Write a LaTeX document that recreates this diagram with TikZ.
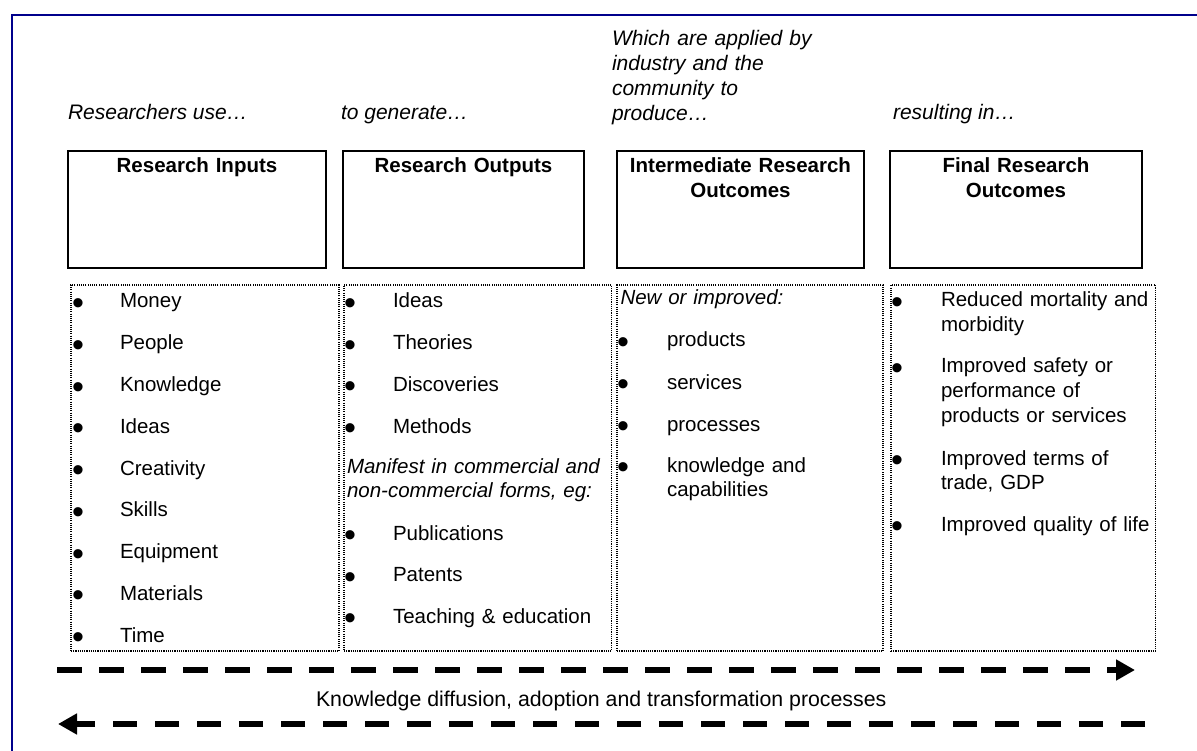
\documentclass[tikz,border=0pt]{standalone}
\usepackage{fontspec}
\setmainfont{Liberation Sans}
\usetikzlibrary{arrows.meta}
\definecolor{frameblue}{RGB}{0,0,140}
\begin{document}
\begin{tikzpicture}[x=1pt,y=-1pt,
  every node/.style={inner sep=0pt, outer sep=0pt, font=\fontsize{20.5}{24.7}\selectfont},
  caption/.style={anchor=base west, font=\fontsize{21}{24.7}\selectfont\itshape},
  mcaption/.style={caption, text width=260pt, align=left},
  headbox/.style={draw=black, line width=2pt, anchor=north west},
  headtitle/.style={anchor=base, font=\fontsize{20.5}{24.7}\selectfont\bfseries, text width=240pt, align=center},
  listbox/.style={draw=black, line width=1.1pt, dash pattern=on 1.1pt off 1.1pt, anchor=north west},
  bul/.style={anchor=base, yshift=-6.5pt, font=\fontsize{34}{34}\selectfont},
  item/.style={anchor=base west, text width=215pt, align=left},
  flow/.style={line width=6pt, dash pattern=on 24.5pt off 17.5pt, -{Triangle[length=19pt,width=20pt]}}
]
\useasboundingbox (0,0) rectangle (1197,751);
\clip (0,0) rectangle (1197,751);
% outer frame
\draw[frameblue, line width=2pt] (12,15) rectangle (1215,770);

% captions
\node[caption] (c1) at (68,120) {Researchers use…};
\node[caption] (c2) at (341,120) {to generate…};
\node[mcaption] (c3) at (612,46) {Which are applied by\\industry and the\\community to\\produce…};
\node[caption] (c4) at (893,120) {resulting in…};

% head boxes
\node[headbox, minimum width=258pt, minimum height=117pt] (h1) at (68,151) {};
\node[headbox, minimum width=241pt, minimum height=117pt] (h2) at (343,151) {};
\node[headbox, minimum width=247pt, minimum height=117pt] (h3) at (617,151) {};
\node[headbox, minimum width=252pt, minimum height=117pt] (h4) at (890,151) {};
\node[headtitle] (t1) at ([yshift=-22pt]h1.north) {Research Inputs};
\node[headtitle] (t2) at ([yshift=-22pt]h2.north) {Research Outputs};
\node[headtitle] (t3) at ([yshift=-22pt]h3.north) {Intermediate Research\\Outcomes};
\node[headtitle] (t4) at ([yshift=-22pt]h4.north) {Final Research\\Outcomes};

% list boxes
\node[listbox, minimum width=268pt, minimum height=366pt] (l1) at (71,285) {};
\node[listbox, minimum width=267.5pt, minimum height=366pt] (l2) at (344,285) {};
\node[listbox, minimum width=266pt, minimum height=366pt] (l3) at (617,285) {};
\node[listbox, minimum width=264.5pt, minimum height=366pt] (l4) at (891,285) {};

% column A
\foreach \t [count=\i] in {Money,People,Knowledge,Ideas,Creativity,Skills,Equipment,Materials,Time}{
  \node[bul] (ab\i) at (78,{308+41.75*(\i-1)}) {•};
  \node[item] (a\i) at (120,{308+41.75*(\i-1)}) {\t};
}

% column B
\foreach \t [count=\i] in {Ideas,Theories,Discoveries,Methods}{
  \node[bul] (bb\i) at (350,{308+41.7*(\i-1)}) {•};
  \node[item] (b\i) at (393,{308+41.7*(\i-1)}) {\t};
}
\node[mcaption, font=\fontsize{20.5}{24.7}\selectfont\itshape] (bm) at (347,473) {Manifest in commercial and\\non-commercial forms, eg:};
\node[bul] (bb5) at (350,540) {•};
\node[item] (b5) at (393,540) {Publications};
\node[bul] (bb6) at (350,581.5) {•};
\node[item] (b6) at (393,581.5) {Patents};
\node[bul] (bb7) at (350,623) {•};
\node[item] (b7) at (393,623) {Teaching \& education};

% column C
\node[mcaption, font=\fontsize{20.5}{24.7}\selectfont\itshape] (cm) at (620.5,305) {New or improved:};
\node[bul] (cb1) at (623,347) {•};
\node[item] (cc1) at (667,347) {products};
\node[bul] (cb2) at (623,389) {•};
\node[item] (cc2) at (667,389) {services};
\node[bul] (cb3) at (623,431) {•};
\node[item] (cc3) at (667,431) {processes};
\node[bul] (cb4) at (623,472) {•};
\node[item] (cc4) at (667,472) {knowledge and\\capabilities};

% column D
\node[bul] (db1) at (897,307) {•};
\node[item] (d1) at (941,307) {Reduced mortality and\\morbidity};
\node[bul] (db2) at (897,373) {•};
\node[item] (d2) at (941,373) {Improved safety or\\performance of\\products or services};
\node[bul] (db3) at (897,465) {•};
\node[item] (d3) at (941,465) {Improved terms of\\trade, GDP};
\node[bul] (db4) at (897,531) {•};
\node[item] (d4) at (941,531) {Improved quality of life};

% flow arrows
\coordinate (fr0) at (57,670);
\coordinate (fr1) at (1135,670);
\draw[flow] (fr0) -- (fr1);
\node[anchor=base west, font=\fontsize{21.3}{24.7}\selectfont] (kd) at (316,706) {Knowledge diffusion, adoption and transformation processes};
\coordinate (fl0) at (1145,724);
\coordinate (fl1) at (58,724);
\draw[flow] (fl0) -- (fl1);
\end{tikzpicture}
\end{document}
